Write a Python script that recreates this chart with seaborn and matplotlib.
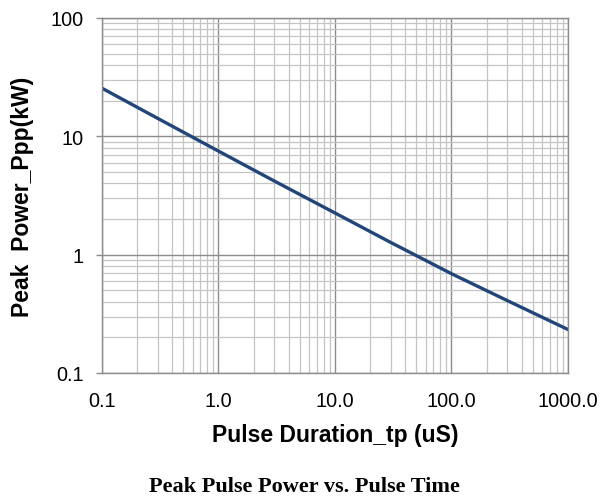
import pandas as pd
import numpy as np
import matplotlib.pyplot as plt
import seaborn as sns
from matplotlib.ticker import FixedLocator, LogLocator, NullFormatter

# values
pulse_us = [0.1, 0.3, 1.0, 3.0, 10.0, 30.0, 100.0, 300.0, 1000.0]
power_kw = [25.5, 14.2, 7.5, 4.2, 2.25, 1.27, 0.69, 0.41, 0.233]
x_ticks = [0.1, 1.0, 10.0, 100.0, 1000.0]
x_labels = ['0.1', '1.0', '10.0', '100.0', '1000.0']
y_ticks = [0.1, 1, 10, 100]
y_labels = ['0.1', '1', '10', '100']

df = pd.DataFrame({'tp': pulse_us, 'ppp': power_kw})

sns.set_style('white')
plt.rcParams['font.family'] = ['Liberation Sans', 'DejaVu Sans']
plt.rcParams['text.color'] = 'black'
plt.rcParams['axes.labelcolor'] = 'black'
plt.rcParams['xtick.color'] = 'black'
plt.rcParams['ytick.color'] = 'black'

fig = plt.figure(figsize=(6.02, 5.02), dpi=100)
ax = fig.add_axes([0.1694, 0.255, 0.7741, 0.7072])

sns.lineplot(data=df, x='tp', y='ppp', ax=ax, color='#22457a', linewidth=2.4)

ax.set_xscale('log')
ax.set_yscale('log')
ax.set_xlim(0.1, 1000)
ax.set_ylim(0.1, 100)

ax.xaxis.set_major_locator(FixedLocator(x_ticks))
ax.set_xticklabels(x_labels)
ax.yaxis.set_major_locator(FixedLocator(y_ticks))
ax.set_yticklabels(y_labels)
for axis in (ax.xaxis, ax.yaxis):
    axis.set_minor_locator(LogLocator(base=10, subs=np.arange(2, 10)))
    axis.set_minor_formatter(NullFormatter())

ax.grid(True, which='major', color='#8c8c8c', linewidth=1.0)
ax.grid(True, which='minor', color='#c4c4c4', linewidth=0.9)
ax.set_axisbelow(True)

ax.tick_params(axis='x', which='major', length=0, pad=13, labelsize=14.3)
ax.tick_params(axis='y', which='major', length=4, width=1.0, color='#8c8c8c',
               labelcolor='black', direction='out', left=True, pad=9, labelsize=14.3)
ax.tick_params(which='minor', length=0)

for s in ax.spines.values():
    s.set_color('#8c8c8c')
    s.set_linewidth(1.0)

ax.set_xlabel('Pulse Duration_tp (uS)', fontsize=16.5, fontweight='bold', labelpad=9)
ax.set_ylabel('Peak  Power_Ppp(kW)', fontsize=16.5, fontweight='bold', labelpad=12)

fig.text(0.505, 0.03, 'Peak Pulse Power vs. Pulse Time', ha='center', va='center',
         fontsize=16, fontweight='bold', family=['Liberation Serif', 'DejaVu Serif'])

plt.savefig('out.png', dpi=100)
